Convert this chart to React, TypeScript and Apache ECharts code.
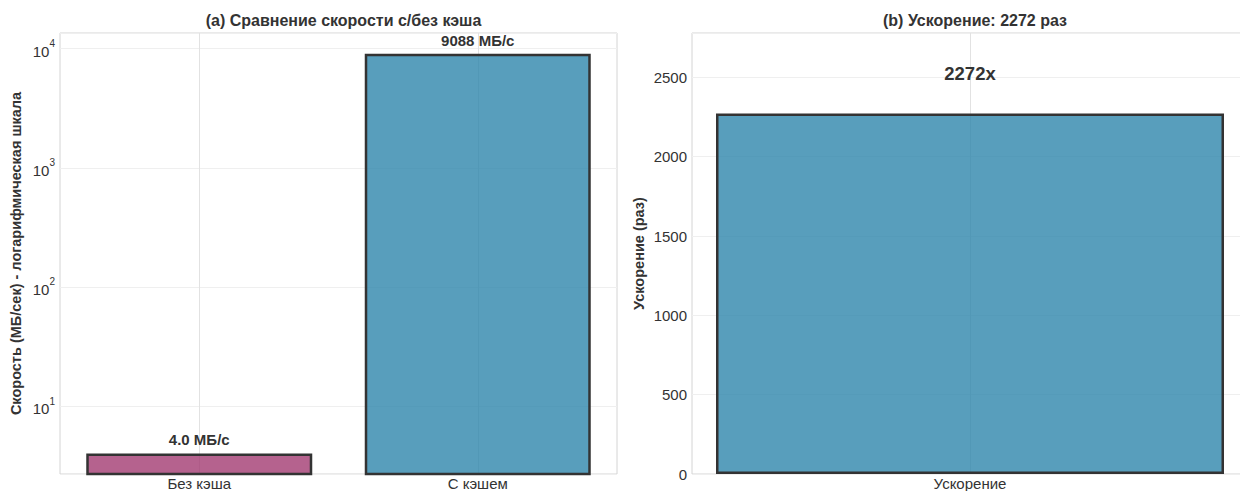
import React, { useEffect, useRef } from "react";
import * as echarts from "echarts";

const speedCategories = ["Без кэша", "С кэшем"];
const speedValues = [4.0, 9088];
const speedLabels = ["4.0 МБ/с", "9088 МБ/с"];
const speedColors = ["rgba(162,59,114,0.8)", "rgba(46,134,171,0.8)"];

const speedupCategories = ["Ускорение"];
const speedupValues = [2272];
const speedupLabels = ["2272x"];

const titleA = "(a) Сравнение скорости с/без кэша";
const titleB = "(b) Ускорение: 2272 раз";
const yNameA = "Скорость (МБ/сек) - логарифмическая шкала";
const yNameB = "Ускорение (раз)";

const FONT = "Liberation Sans, Arial, sans-serif";
const TXT = "#333333";

export default function App() {
  const ref = useRef<HTMLDivElement>(null);
  useEffect(() => {
    if (!ref.current) return;
    const chart = echarts.init(ref.current, undefined, { renderer: "svg" });
    const frame = {
      show: true,
      borderColor: "#d4d4d4",
      borderWidth: 1,
      backgroundColor: "#fff",
      outerBoundsMode: "none",
      containLabel: false,
    };
    chart.setOption({
      animation: false,
      backgroundColor: "#ffffff",
      textStyle: { fontFamily: FONT },
      title: [
        {
          text: titleA,
          left: 338.5,
          top: 7,
          textAlign: "center",
          textStyle: { fontFamily: FONT, fontSize: 16, fontWeight: "bold", color: TXT },
        },
        {
          text: titleB,
          left: 970,
          top: 7,
          textAlign: "center",
          textStyle: { fontFamily: FONT, fontSize: 16, fontWeight: "bold", color: TXT },
        },
      ],
      grid: [
        { left: 60, top: 33, width: 557, height: 441, ...frame },
        { left: 692, top: 33, right: -8, height: 441, ...frame },
      ],
      xAxis: [
        {
          type: "category",
          gridIndex: 0,
          data: speedCategories,
          axisLine: { show: false },
          axisTick: { show: false },
          axisLabel: { fontFamily: FONT, fontSize: 15, color: TXT, margin: 2 },
          splitLine: { show: true, alignWithLabel: true, lineStyle: { color: "#e2e2e2", width: 1 } },
        },
        {
          type: "category",
          gridIndex: 1,
          data: speedupCategories,
          axisLine: { show: false },
          axisTick: { show: false },
          axisLabel: { fontFamily: FONT, fontSize: 15, color: TXT, margin: 2 },
          splitLine: { show: true, alignWithLabel: true, lineStyle: { color: "#e2e2e2", width: 1 } },
        },
      ],
      yAxis: [
        {
          type: "log",
          gridIndex: 0,
          logBase: 10,
          min: 2.69,
          max: 13550,
          name: yNameA,
          nameLocation: "middle",
          nameGap: 37,
          nameTextStyle: { fontFamily: FONT, fontSize: 14.5, fontWeight: "bold", color: TXT },
          axisLine: { show: false },
          axisTick: { show: false },
          splitLine: { show: true, lineStyle: { color: "#efefef", width: 1 } },
          minorTick: { show: false },
          axisLabel: {
            showMinLabel: false,
            showMaxLabel: false,
            margin: 5,
            formatter: (v: number) => {
              const e = Math.round(Math.log10(v));
              return `{b|10}{s|${e}}`;
            },
            rich: {
              b: { fontFamily: FONT, fontSize: 15, color: TXT, lineHeight: 20, verticalAlign: "bottom" },
              s: { fontFamily: FONT, fontSize: 10, color: TXT, lineHeight: 20, verticalAlign: "top" },
            },
          },
        },
        {
          type: "value",
          gridIndex: 1,
          min: 0,
          max: 2780,
          interval: 500,
          name: yNameB,
          nameLocation: "middle",
          nameGap: 46,
          nameTextStyle: { fontFamily: FONT, fontSize: 14.5, fontWeight: "bold", color: TXT },
          axisLine: { show: false },
          axisTick: { show: false },
          splitLine: { show: true, lineStyle: { color: "#efefef", width: 1 } },
          axisLabel: {
            showMaxLabel: false,
            fontFamily: FONT,
            fontSize: 15,
            color: TXT,
            margin: 5,
            formatter: (v: number) => String(v),
          },
        },
      ],
      series: [
        {
          type: "bar",
          xAxisIndex: 0,
          yAxisIndex: 0,
          barWidth: 226,
          data: speedValues.map((v, i) => ({
            value: v,
            itemStyle: { color: speedColors[i] },
            label: { formatter: speedLabels[i] },
          })),
          itemStyle: { borderColor: "#333333", borderWidth: 2.5 },
          label: {
            show: true,
            position: "top",
            distance: 6,
            fontFamily: FONT,
            fontSize: 15,
            fontWeight: "bold",
            color: TXT,
          },
        },
        {
          type: "bar",
          xAxisIndex: 1,
          yAxisIndex: 1,
          barWidth: 508,
          data: speedupValues.map((v, i) => ({
            value: v,
            label: { formatter: speedupLabels[i] },
          })),
          itemStyle: { color: "rgba(46,134,171,0.8)", borderColor: "#333333", borderWidth: 2.5 },
          label: {
            show: true,
            position: "top",
            distance: 31,
            fontFamily: FONT,
            fontSize: 18.5,
            fontWeight: "bold",
            color: TXT,
          },
        },
      ],
    });
    return () => chart.dispose();
  }, []);
  return (
    <div
      ref={ref}
      style={{ position: "fixed", left: 0, top: 0, width: 1240, height: 491, background: "#fff" }}
    />
  );
}
